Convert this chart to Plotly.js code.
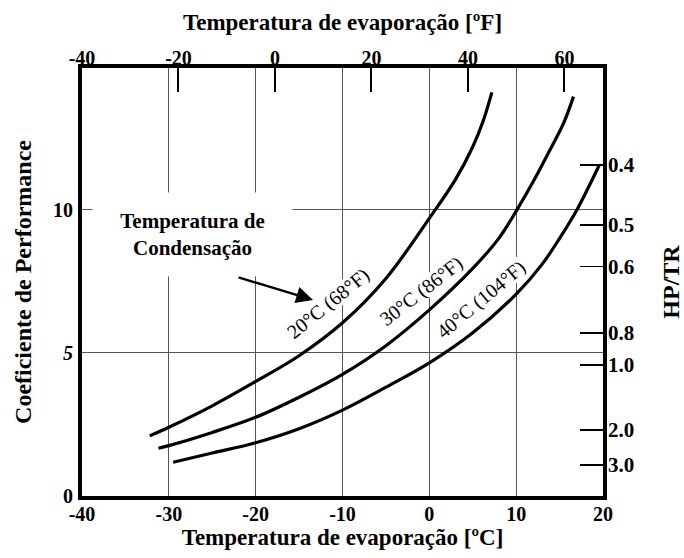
<!DOCTYPE html>
<html>
<head>
<meta charset="utf-8">
<script src="https://cdn.plot.ly/plotly-3.0.1.min.js"></script>
<style>
  html, body { margin: 0; padding: 0; background: #fff; }
  #chart { width: 684px; height: 558px; }
</style>
</head>
<body>
<div id="chart"></div>
<script>
// Evaporating temperature (°C) vs coefficient of performance, one curve per condensing temperature
const evap20 = [-32.2, -30, -25, -20, -15, -10, -5, 0, 3, 5, 6.2, 7.2];
const cop20  = [2.10, 2.40, 3.15, 4.00, 4.90, 6.05, 7.60, 9.70, 11.05, 12.20, 13.10, 14.10];

const evap30 = [-31.2, -30, -25, -20, -15, -10, -5, 0, 5, 8, 10, 12, 14, 15.5, 16.6];
const cop30  = [1.67, 1.76, 2.22, 2.75, 3.45, 4.25, 5.25, 6.50, 7.95, 9.00, 9.95, 11.00, 12.15, 13.05, 13.95];

const evap40 = [-29.5, -25, -20, -15, -10, -5, 0, 5, 10, 13, 15, 17, 19.6];
const cop40  = [1.18, 1.50, 1.86, 2.35, 3.00, 3.80, 4.65, 5.70, 7.05, 8.10, 9.00, 10.00, 11.58];

const curveLabels = ['20°C (68°F)', '30°C (86°F)', '40°C (104°F)'];

// Celsius scale (bottom) and COP scale (left)
const celsiusTicks = [-40, -30, -20, -10, 0, 10, 20];
const celsiusTickText = ['-40', '-30', '-20', '-10', '0', '10', '20'];
const copTicks = [0, 5, 10];
const copTickText = ['0', '<i>5</i>', '10'];

// Fahrenheit scale (top) and HP/TR scale (right, marked at the equivalent COP)
const fahrenheitTicks = [-40, -20, 0, 20, 40, 60];
const fahrenheitTickText = ['-40', '-20', '0', '20', '40', '60'];
const hpTrLabels = ['0.4', '0.5', '0.6', '0.8', '1.0', '2.0', '3.0'];
const hpTrAtCop  = [11.56, 9.47, 8.01, 5.69, 4.58, 2.31, 1.08];

const celsiusRange = [-40, 20];
const copRange = [0, 14.95];
const toF = c => c * 9 / 5 + 32;

const serif = '"Liberation Serif", "Times New Roman", Times, serif';
const curveLine = {color: '#000', width: 3.2, shape: 'spline', smoothing: 1};

const curve = (x, y) => ({
  type: 'scatter', mode: 'lines', x: x, y: y,
  line: curveLine, hoverinfo: 'skip', showlegend: false
});

const traces = [
  curve(evap20, cop20),
  curve(evap30, cop30),
  curve(evap40, cop40),
  // attaches the Fahrenheit and HP/TR scales
  {type: 'scatter', mode: 'lines', x: [], y: [], xaxis: 'x2', yaxis: 'y2',
   hoverinfo: 'skip', showlegend: false}
];

const boldTick = {family: serif, size: 20, color: '#000', weight: 'bold'};
const titleFont = {family: serif, size: 23, color: '#000', weight: 'bold'};
const frame = {showline: true, linecolor: '#000', linewidth: 4, mirror: true};

const labelFont = {family: serif, size: 20, color: '#000'};
const curveLabel = (text, x, y, angle) => ({
  xref: 'x', yref: 'y', x: x, y: y, text: text, textangle: angle,
  showarrow: false, font: labelFont, bgcolor: '#fff', borderpad: 0, height: 19
});

const layout = {
  width: 684, height: 558,
  margin: {l: 82, r: 81, t: 68, b: 62, pad: 0},
  paper_bgcolor: '#fff', plot_bgcolor: '#fff',
  showlegend: false,
  font: {family: serif, color: '#000'},
  xaxis: Object.assign({
    range: celsiusRange, tickvals: celsiusTicks, ticktext: celsiusTickText, ticks: '',
    showgrid: true, gridcolor: '#555', gridwidth: 1, zeroline: false,
    tickfont: boldTick, ticklabelstandoff: -3,
    title: {text: 'Temperatura de evaporação [ºC]', font: titleFont, standoff: 6}
  }, frame),
  yaxis: Object.assign({
    range: copRange, tickvals: copTicks, ticktext: copTickText, ticks: '',
    showgrid: true, gridcolor: '#555', gridwidth: 1, zeroline: false,
    tickfont: boldTick, ticklabelstandoff: 1,
    title: {text: 'Coeficiente de Performance', font: Object.assign({}, titleFont, {size: 24}), standoff: 16}
  }, frame),
  xaxis2: {
    overlaying: 'x', side: 'top', anchor: 'y',
    range: celsiusRange.map(toF), tickvals: fahrenheitTicks, ticktext: fahrenheitTickText,
    ticks: 'inside', ticklen: 24, tickwidth: 2, tickcolor: '#000',
    showgrid: false, zeroline: false, showline: false,
    tickfont: boldTick, ticklabelstandoff: -2,
    title: {text: 'Temperatura de evaporação [ºF]', font: titleFont, standoff: 9}
  },
  yaxis2: {
    overlaying: 'y', side: 'right', anchor: 'x',
    range: copRange, tickvals: hpTrAtCop, ticktext: hpTrLabels,
    ticks: 'inside', ticklen: 23, tickwidth: 1.5, tickcolor: '#000',
    showgrid: false, zeroline: false, showline: false,
    tickfont: Object.assign({}, boldTick, {size: 21}), ticklabelstandoff: 4,
    title: {text: 'HP/TR', font: Object.assign({}, titleFont, {size: 24}), standoff: 28}
  },
  annotations: [
    {xref: 'x', yref: 'y', x: -27.3, y: 9.13,
     text: 'Temperatura de<br>Condensação', showarrow: false,
     font: {family: serif, size: 21, color: '#000', weight: 'bold'},
     bgcolor: '#fff', width: 195, height: 79, borderpad: 2, align: 'center'},
    {xref: 'x', yref: 'y', x: -13.4, y: 6.85, ax: -76, ay: -23, text: '',
     showarrow: true, arrowhead: 2, arrowsize: 1.4, arrowwidth: 2.4, arrowcolor: '#000'},
    curveLabel(curveLabels[0], -11.6, 6.72, -39),
    curveLabel(curveLabels[1], -0.95, 7.15, -38),
    curveLabel(curveLabels[2], 6.0, 6.85, -40)
  ]
};

Plotly.newPlot('chart', traces, layout, {displayModeBar: false, staticPlot: true});
</script>
</body>
</html>
